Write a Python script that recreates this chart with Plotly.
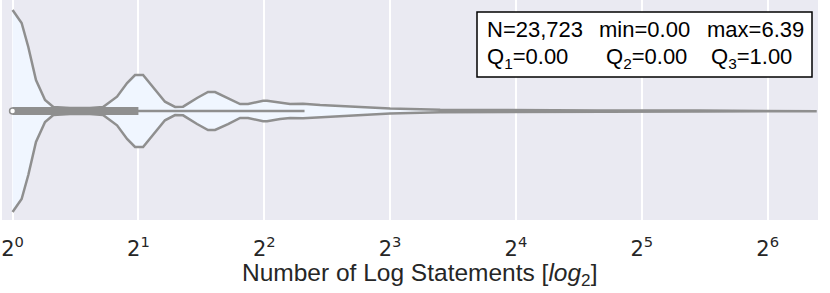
import plotly.graph_objects as go

# ---- data (x in log2 units) ----
kde_x = [0.000, 0.072, 0.125, 0.186, 0.258, 0.324, 0.456, 0.615, 0.719, 0.830,
         0.910, 0.973, 1.037, 1.116, 1.211, 1.291, 1.355, 1.466, 1.553, 1.609,
         1.712, 1.808, 1.871, 1.991, 2.022, 2.126, 2.205, 2.308, 2.444, 2.683,
         3.000, 3.398, 3.875, 4.669, 5.464, 6.390]
# violin half-width (relative to the widest point = 1)
kde_density = [1.000, 0.871, 0.634, 0.307, 0.109, 0.040, 0.030, 0.030, 0.040, 0.142,
               0.277, 0.356, 0.356, 0.238, 0.092, 0.040, 0.043, 0.129, 0.188, 0.188,
               0.129, 0.069, 0.069, 0.102, 0.102, 0.079, 0.069, 0.072, 0.059, 0.045,
               0.025, 0.012, 0.008, 0.006, 0.004, 0.002]

stat_n = "23,723"
stat_min = 0.00
stat_max = 6.39
q1, q2, q3 = 0.00, 0.00, 1.00
whisker_low, whisker_high = 0.00, 2.32

tick_vals = [0, 1, 2, 3, 4, 5, 6]
tick_text = ["2<sup>%d</sup>" % v for v in tick_vals]
x_title = "Number of Log Statements [<i>log</i><sub>2</sub>]"

# ---- styling ----
GRAY = "#8f8f8f"
FILL = "#f0f6ff"
HALF = 0.4

upper = [d * HALF for d in kde_density]
lower = [-d * HALF for d in kde_density]

fig = go.Figure()
fig.add_trace(go.Scatter(
    x=kde_x + kde_x[::-1], y=upper + lower[::-1],
    mode="lines", fill="toself", fillcolor=FILL,
    line=dict(color=GRAY, width=2.5), hoverinfo="skip", showlegend=False))
fig.add_trace(go.Scatter(
    x=[whisker_low, whisker_high], y=[0, 0], mode="lines",
    line=dict(color=GRAY, width=2.5), showlegend=False))
fig.add_trace(go.Scatter(
    x=[q1, q3], y=[0, 0], mode="lines",
    line=dict(color=GRAY, width=8), showlegend=False))
fig.add_trace(go.Scatter(
    x=[q2], y=[0], mode="markers",
    marker=dict(color="white", size=6, line=dict(color=GRAY, width=1.5)),
    showlegend=False))

# stats box
fig.add_shape(type="rect", xref="paper", yref="paper",
              x0=(477 - 2) / 816, x1=(812 - 2) / 816,
              y0=(220 - 77) / 220, y1=(220 - 12) / 220,
              fillcolor="white", line=dict(color="black", width=1.5), layer="above")

font_box = dict(family="Liberation Sans, Arial", size=22, color="black")
items = [
    (485, 30, "N=%s" % stat_n),
    (597, 30, "min=%.2f" % stat_min),
    (705, 30, "max=%.2f" % stat_max),
    (485, 58, "Q<sub>1</sub>=%.2f" % q1),
    (604, 58, "Q<sub>2</sub>=%.2f" % q2),
    (709, 58, "Q<sub>3</sub>=%.2f" % q3),
]
for px, py, txt in items:
    fig.add_annotation(xref="paper", yref="paper",
                       x=(px - 2) / 816, y=(220 - py) / 220,
                       xanchor="left", yanchor="middle", showarrow=False,
                       text=txt, font=font_box)

# x-axis title
fig.add_annotation(xref="paper", yref="paper",
                   x=(420 - 2) / 816, y=(220 - 274) / 220,
                   xanchor="center", yanchor="middle", showarrow=False,
                   text=x_title,
                   font=dict(family="Liberation Sans, Arial", size=24.5, color="#262626"))

fig.update_layout(
    width=830, height=293,
    margin=dict(l=2, r=12, t=0, b=73),
    paper_bgcolor="white", plot_bgcolor="#eaeaf2",
    xaxis=dict(range=[-0.084, 6.40], tickvals=tick_vals, ticktext=tick_text,
               showgrid=True, gridcolor="white", gridwidth=2,
               zeroline=False, showline=False,
               ticks="outside", ticklen=10, tickcolor="rgba(0,0,0,0)",
               tickfont=dict(family="DejaVu Sans", size=21, color="#262626")),
    yaxis=dict(range=[-109 / 101 * HALF, 111 / 101 * HALF], visible=False,
               showgrid=False, zeroline=False, fixedrange=True),
)

fig.write_html("out.html", config={"displayModeBar": False},
               post_script="document.body.style.margin='0';document.body.style.padding='0';")
